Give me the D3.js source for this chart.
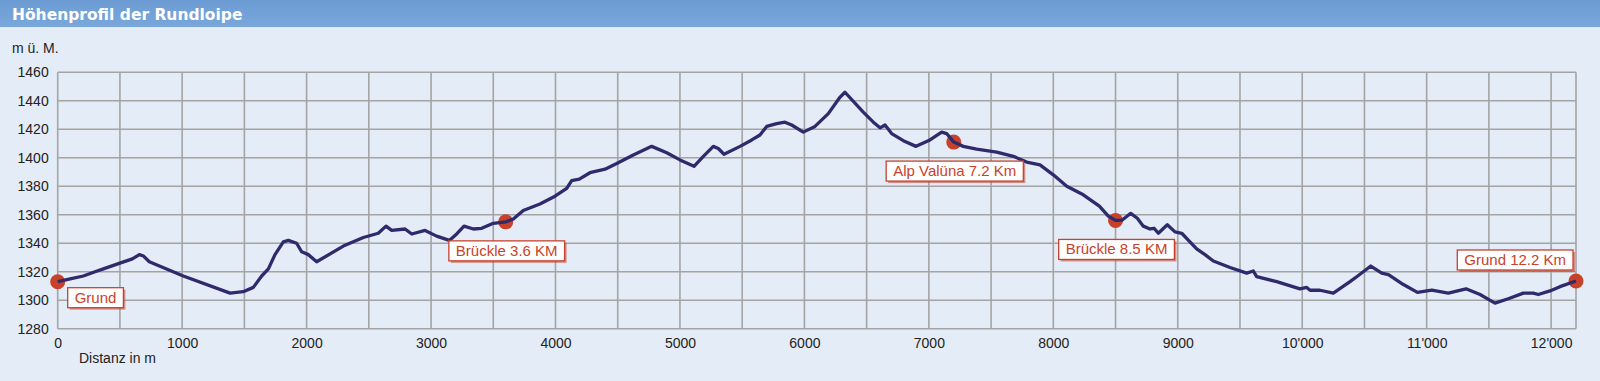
<!DOCTYPE html>
<html>
<head>
<meta charset="utf-8">
<script src="https://cdn.jsdelivr.net/npm/d3@7"></script>
<style>
  html, body { margin: 0; padding: 0; background: #e4ecf7; }
  svg { display: block; }
</style>
</head>
<body>
<div id="chart"></div>
<script>
// Höhenprofil - Distanz (m) / Höhe (m ü. M.)
const distanz = [0, 100, 206, 300, 367, 500, 600, 656, 690, 736, 1009, 1385, 1491, 1572, 1639, 1693, 1746, 1813, 1853, 1920,
  1960, 2014, 2081, 2295, 2456, 2576, 2638, 2684, 2791, 2845, 2952, 3045, 3147, 3206, 3265, 3340, 3407, 3500, 3600, 3661,
  3741, 3875, 3996, 4090, 4130, 4191, 4277, 4398, 4492, 4625, 4773, 4894, 5000, 5113, 5188, 5268, 5308, 5354, 5483, 5577,
  5643, 5697, 5777, 5844, 5898, 5991, 6085, 6192, 6281, 6326, 6473, 6554, 6608, 6648, 6701, 6795, 6897, 7009, 7103, 7143,
  7200, 7277, 7384, 7545, 7679, 7786, 7893, 8000, 8108, 8241, 8370, 8442, 8500, 8549, 8622, 8675, 8723, 8777, 8810, 8844,
  8916, 8978, 9032, 9098, 9152, 9219, 9286, 9420, 9554, 9607, 9634, 9795, 9982, 10036, 10063, 10143, 10250, 10384, 10438, 10551,
  10639, 10693, 10813, 10926, 11041, 11174, 11316, 11429, 11549, 11656, 11777, 11857, 11897, 11991, 12071, 12200];
const hoehe = [1313, 1315, 1317, 1320, 1322, 1326, 1329, 1332, 1331, 1327, 1317, 1305, 1306, 1309, 1317, 1322, 1332, 1341, 1342, 1340,
  1334, 1332, 1327, 1338, 1344, 1347, 1352, 1349, 1350, 1346.5, 1349, 1345, 1342, 1346.5, 1352, 1350, 1350.5, 1354, 1355, 1357,
  1363, 1367.5, 1373, 1378.5, 1384, 1385, 1389.5, 1392, 1396, 1402, 1408, 1403.5, 1398.5, 1394, 1401, 1408, 1406.5, 1402.5, 1408, 1412.5,
  1416, 1422, 1424, 1425, 1423, 1418, 1422, 1431, 1442, 1446, 1432, 1425, 1421, 1423, 1417, 1412, 1408, 1412.5, 1418, 1417,
  1411, 1408, 1406, 1404, 1401, 1397, 1395, 1388, 1380, 1374, 1366, 1359, 1356, 1356, 1361, 1357.5, 1352, 1350, 1350.5, 1347,
  1353, 1348, 1347, 1341, 1336, 1332, 1327.5, 1323, 1319, 1320.5, 1316.5, 1313, 1308, 1309, 1307, 1307, 1305, 1313, 1316.5, 1324,
  1319, 1318, 1311, 1305.5, 1307, 1305, 1308, 1304, 1298, 1301, 1305, 1305, 1304, 1306.5, 1309.5, 1313.5];

const punktDistanz = [0, 3600, 7200, 8500, 12200];
const punktHoehe = [1313, 1355, 1411, 1356, 1313.5];
const punktName = ['Grund', 'Brückle 3.6 KM', 'Alp Valüna 7.2 Km', 'Brückle 8.5 KM', 'Grund 12.2 Km'];

const xTicks = [0, 1000, 2000, 3000, 4000, 5000, 6000, 7000, 8000, 9000, 10000, 11000, 12000];
const xGrid = d3.range(0, 12001, 500);
const yTicks = [1280, 1300, 1320, 1340, 1360, 1380, 1400, 1420, 1440, 1460];

const W = 1600, H = 381;
const pLeft = 57.7, pRight = 1576, pTop = 72.3, pBottom = 328.7;
const red = '#c8422b';

const svg = d3.select('#chart').append('svg')
  .attr('width', W).attr('height', H);

svg.append('rect').attr('width', W).attr('height', H).attr('fill', '#e4ecf7');

// title bar
const grad = svg.append('defs').append('linearGradient')
  .attr('id', 'bar').attr('x1', 0).attr('x2', 0).attr('y1', 0).attr('y2', 1);
grad.append('stop').attr('offset', 0).attr('stop-color', '#6c9bd3');
grad.append('stop').attr('offset', 1).attr('stop-color', '#7aa8dc');
svg.append('rect').attr('width', W).attr('height', 27).attr('fill', 'url(#bar)');
svg.append('text')
  .attr('x', 12).attr('y', 20)
  .attr('fill', '#fff')
  .style('font', 'bold 15.5px "DejaVu Sans", sans-serif')
  .text('Höhenprofil der Rundloipe');

const x = d3.scaleLinear().domain([0, 12200]).range([pLeft, pRight]);
const y = d3.scaleLinear().domain([1280, 1460]).range([pBottom, pTop]);

// grid
const grid = svg.append('g').attr('stroke', '#a4a4a4').attr('stroke-width', 1.6);
grid.selectAll('.h').data(yTicks).join('line')
  .attr('x1', pLeft).attr('x2', pRight)
  .attr('y1', d => y(d)).attr('y2', d => y(d));
grid.selectAll('.v').data(xGrid.concat([12200])).join('line')
  .attr('x1', d => x(d)).attr('x2', d => x(d))
  .attr('y1', pTop).attr('y2', pBottom);

// axes labels
const fmtX = d => d < 10000 ? String(d) : d3.format(',')(d).replace(',', "'");
const yAxis = svg.append('g')
  .attr('transform', `translate(${pLeft},0)`)
  .call(d3.axisLeft(y).tickValues(yTicks).tickSize(0).tickPadding(9).tickFormat(d3.format('d')));
const xAxis = svg.append('g')
  .attr('transform', `translate(0,${pBottom})`)
  .call(d3.axisBottom(x).tickValues(xTicks).tickSize(0).tickPadding(9).tickFormat(fmtX));
[xAxis, yAxis].forEach(a => {
  a.select('.domain').remove();
  a.selectAll('text').attr('fill', '#222').style('font', '14px "Liberation Sans", Arial, sans-serif');
});

svg.append('text').attr('x', 12).attr('y', 53)
  .attr('fill', '#222').style('font', '14px "Liberation Sans", Arial, sans-serif')
  .text('m ü. M.');
svg.append('text').attr('x', 79).attr('y', 363)
  .attr('fill', '#222').style('font', '14px "Liberation Sans", Arial, sans-serif')
  .text('Distanz in m');

// markers
svg.append('g').selectAll('circle').data(punktDistanz).join('circle')
  .attr('cx', d => x(d)).attr('cy', (d, i) => y(punktHoehe[i]))
  .attr('r', 7.5).attr('fill', red);

// profile line
const pts = distanz.map((d, i) => [d, hoehe[i]]);
svg.append('path')
  .datum(pts)
  .attr('d', d3.line().x(d => x(d[0])).y(d => y(d[1])))
  .attr('fill', 'none')
  .attr('stroke', '#2f2a6c')
  .attr('stroke-width', 3.3)
  .attr('stroke-linejoin', 'round');

// label boxes
const boxH = 20;
punktName.forEach((name, i) => {
  const mx = x(punktDistanz[i]), my = y(punktHoehe[i]);
  const g = svg.append('g');
  const shadow = g.append('rect');
  const box = g.append('rect');
  const t = g.append('text')
    .attr('fill', red)
    .style('font', '15px "Liberation Sans", Arial, sans-serif')
    .text(name);
  const tw = t.node().getComputedTextLength();
  const bw = tw + 14;
  let bx, by;
  if (i === 0) { bx = mx + 10; by = my + 6; }
  else if (i === punktName.length - 1) { bx = mx - 3 - bw; by = my - 11 - boxH; }
  else { bx = mx + 1 - bw / 2; by = my + 19; }
  shadow.attr('x', bx + 2).attr('y', by + 2).attr('width', bw).attr('height', boxH)
    .attr('fill', '#c8422b').attr('opacity', 0.55);
  box.attr('x', bx).attr('y', by).attr('width', bw).attr('height', boxH)
    .attr('fill', '#fff').attr('stroke', red).attr('stroke-width', 1.3);
  t.attr('x', bx + 7).attr('y', by + 15);
});
</script>
</body>
</html>
